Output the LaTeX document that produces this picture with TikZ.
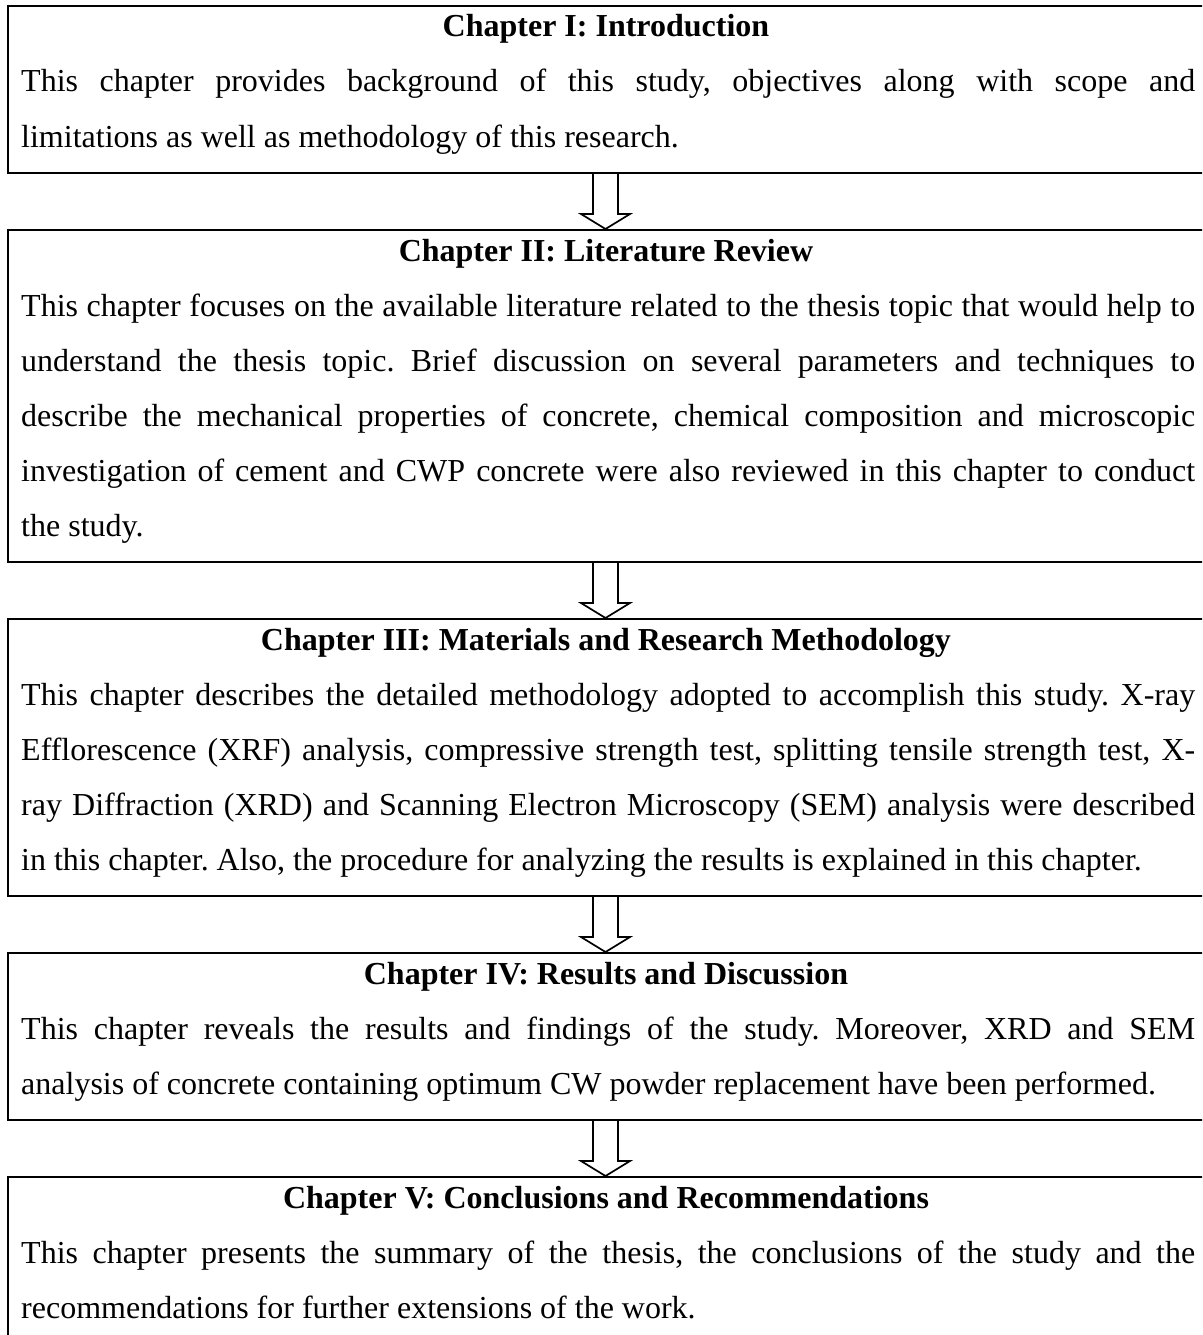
\documentclass[tikz,border=0pt]{standalone}
\usepackage{fontspec}
\setmainfont{Liberation Serif}
\usetikzlibrary{calc}
\newcommand\jl[1]{\makebox[1174pt][s]{#1}}
\frenchspacing
\begin{document}
\frenchspacing
\begin{tikzpicture}[x=1pt,y=-1pt,
  box/.style={draw, line width=2.2pt, rectangle, minimum width=1203pt, anchor=north west, inner sep=0pt},
  ttl/.style={anchor=base, font=\fontsize{32}{38}\selectfont\bfseries, inner sep=0pt},
  txt/.style={anchor=base west, font=\fontsize{32}{38}\selectfont, inner sep=0pt},
  blockarrow/.style={draw, line width=1.7pt, fill=white, line join=miter}]
\useasboundingbox (0,0) rectangle (1202,1335);
\clip (0,0) rectangle (1202,1335);
% boxes
\node[box, minimum height=167pt] (b1) at (7,5) {};
\node[box, minimum height=332pt] (b2) at (7,229) {};
\node[box, minimum height=277pt] (b3) at (7,618) {};
\node[box, minimum height=167pt] (b4) at (7,952) {};
\node[box, minimum height=167pt] (b5) at (7,1176) {};
% arrows
\foreach \a/\b in {b1/b2,b2/b3,b3/b4,b4/b5}{
  \draw[blockarrow] let \p1=(\a.south west), \p2=(\b.north west) in
    (593,\y1) -- (593,\y2+15) -- (581,\y2+15) -- (605.5,\y2) -- (630,\y2+15) -- (618,\y2+15) -- (618,\y1);
}
% Chapter I
\node[ttl] (t1) at (606,37) {Chapter I: Introduction};
\node[txt] (l11) at (21,92) {\jl{This chapter provides background of this study, objectives along with scope and}};
\node[txt] (l12) at (21,147) {limitations as well as methodology of this research.};
% Chapter II
\node[ttl] (t2) at (606,261) {Chapter II: Literature Review};
\node[txt] (l21) at (21,316) {\jl{This chapter focuses on the available literature related to the thesis topic that would help to}};
\node[txt] (l22) at (21,371) {\jl{understand the thesis topic. Brief discussion on several parameters and techniques to}};
\node[txt] (l23) at (21,426) {\jl{describe the mechanical properties of concrete, chemical composition and microscopic}};
\node[txt] (l24) at (21,481) {\jl{investigation of cement and CWP concrete were also reviewed in this chapter to conduct}};
\node[txt] (l25) at (21,536) {the study.};
% Chapter III
\node[ttl] (t3) at (606,650) {Chapter III: Materials and Research Methodology};
\node[txt] (l31) at (21,705) {\jl{This chapter describes the detailed methodology adopted to accomplish this study. X-ray}};
\node[txt] (l32) at (21,760) {\jl{Efflorescence (XRF) analysis, compressive strength test, splitting tensile strength test, X-}};
\node[txt] (l33) at (21,815) {\jl{ray Diffraction (XRD) and Scanning Electron Microscopy (SEM) analysis were described}};
\node[txt] (l34) at (21,870) {in this chapter. Also, the procedure for analyzing the results is explained in this chapter.};
% Chapter IV
\node[ttl] (t4) at (606,984) {Chapter IV: Results and Discussion};
\node[txt] (l41) at (21,1039) {\jl{This chapter reveals the results and findings of the study. Moreover, XRD and SEM}};
\node[txt] (l42) at (21,1094) {analysis of concrete containing optimum CW powder replacement have been performed.};
% Chapter V
\node[ttl] (t5) at (606,1208) {Chapter V: Conclusions and Recommendations};
\node[txt] (l51) at (21,1263) {\jl{This chapter presents the summary of the thesis, the conclusions of the study and the}};
\node[txt] (l52) at (21,1318) {recommendations for further extensions of the work.};
\end{tikzpicture}
\end{document}
